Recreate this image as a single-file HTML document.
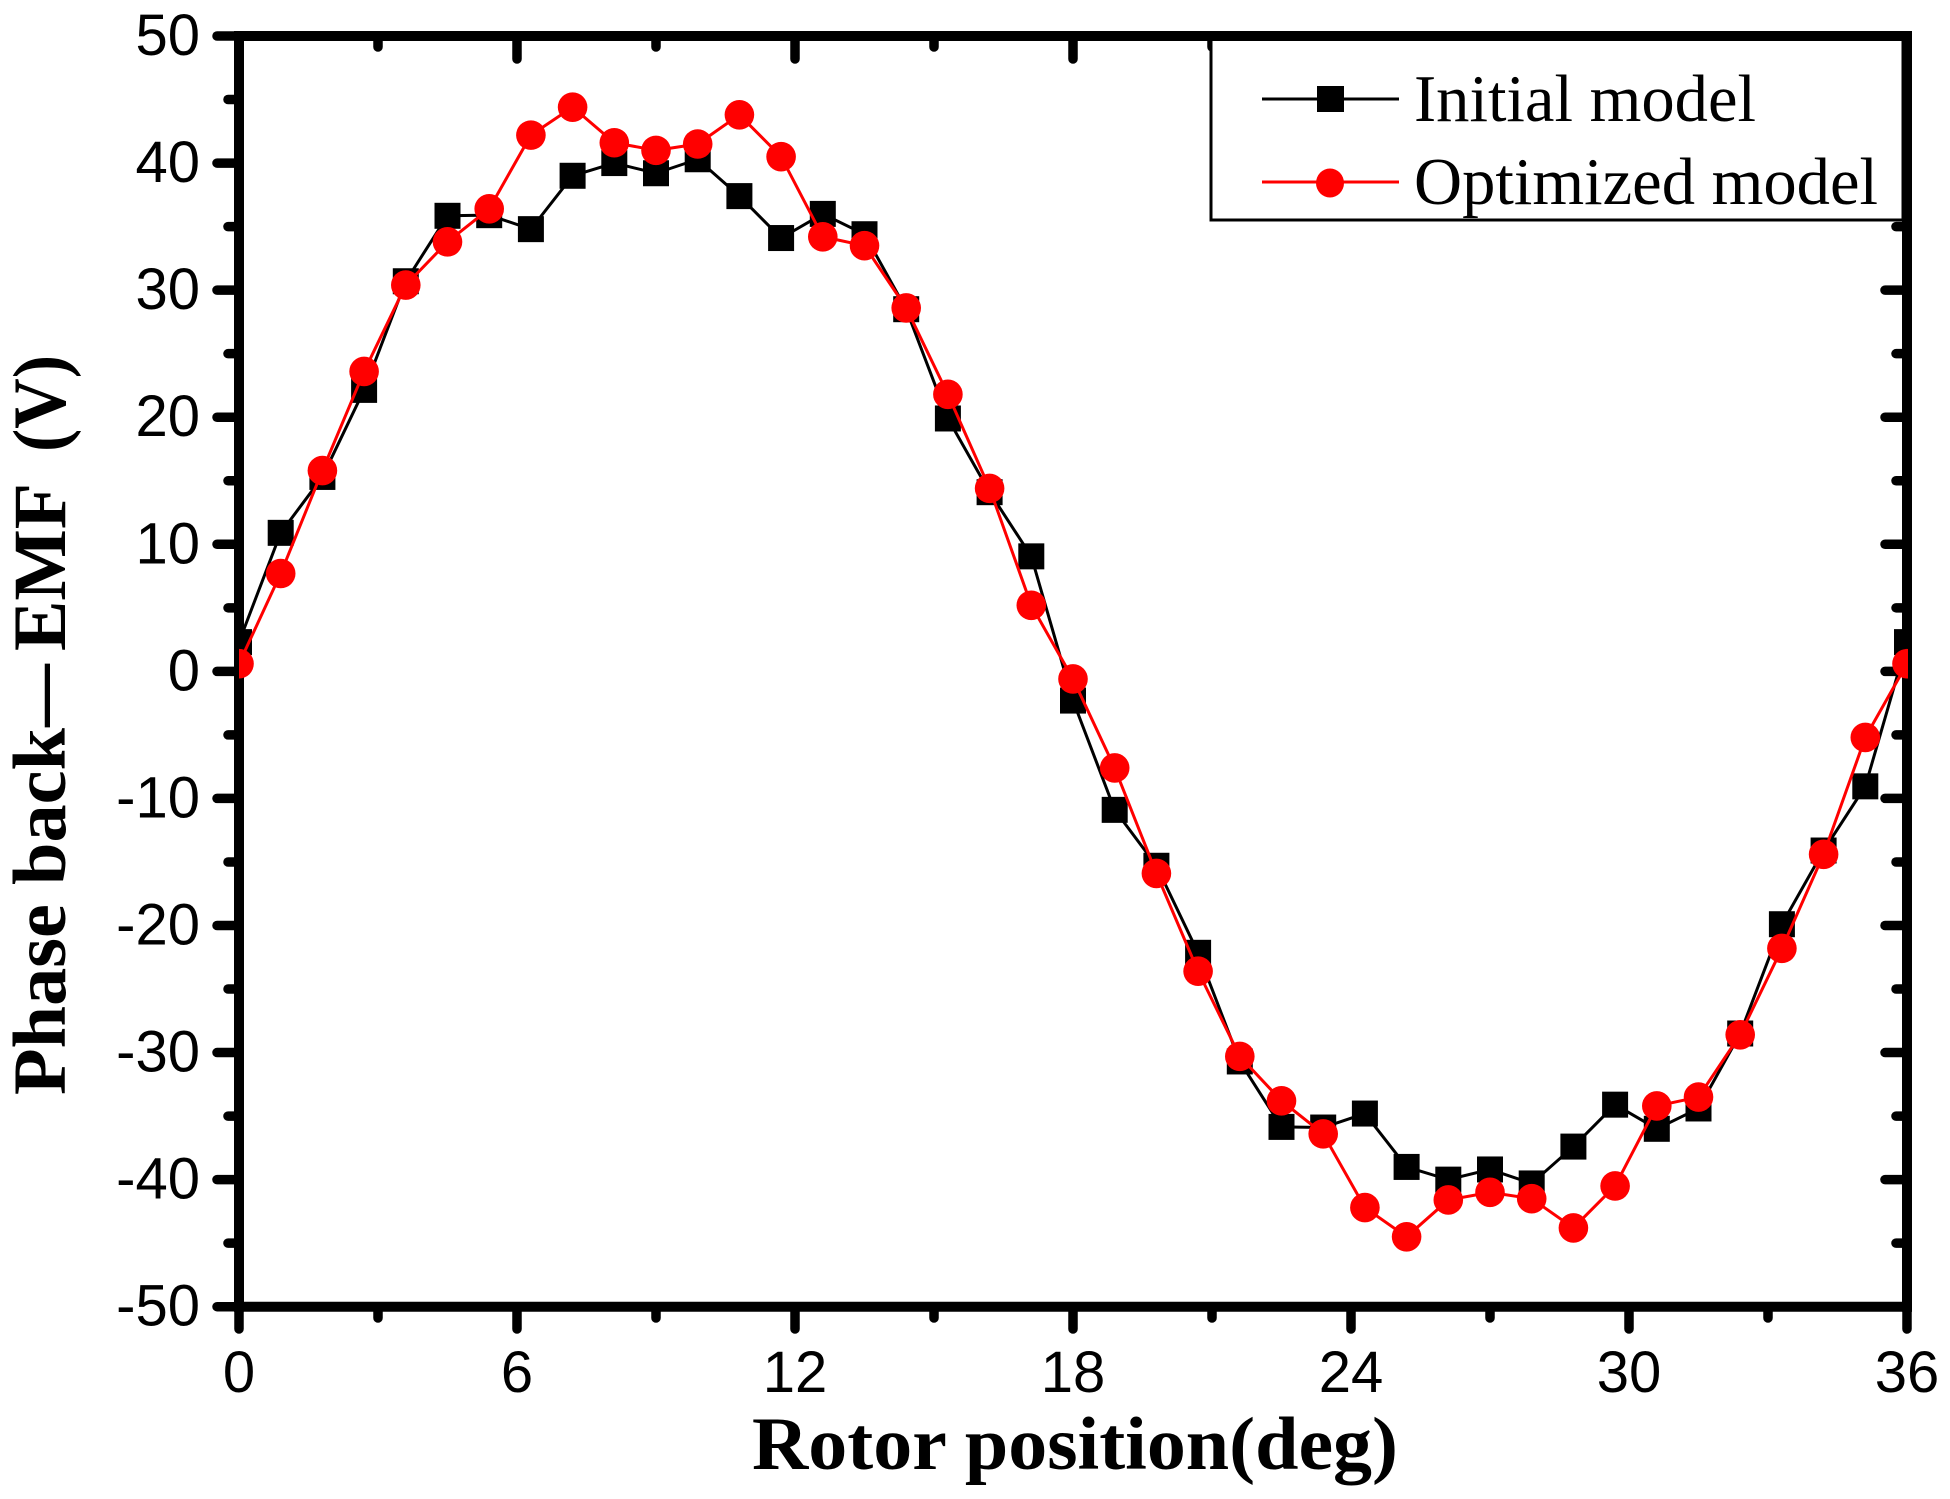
<!DOCTYPE html>
<html lang="en">
<head>
<meta charset="utf-8">
<title>Phase back-EMF chart</title>
<style>
html,body{margin:0;padding:0;background:#fff;}
svg{display:block;}
.tick-label{font-family:"Liberation Sans",Arial,sans-serif;font-size:58px;fill:#000;}
.title{font-family:"Liberation Serif","Times New Roman",serif;font-weight:bold;font-size:75px;fill:#000;}
.legend-text{font-family:"Liberation Serif","Times New Roman",serif;font-size:67px;fill:#000;}
</style>
</head>
<body>
<svg id="chart" xmlns="http://www.w3.org/2000/svg" width="1950" height="1499" viewBox="0 0 1950 1499">
  <rect x="0" y="0" width="1950" height="1499" fill="#fff"/>
  <defs>
    <clipPath id="plot-clip"><rect x="239" y="36" width="1669" height="1271"/></clipPath>
  </defs>
  <g id="ticks"></g>
  <g id="legend">
    <rect x="1211" y="36" width="692" height="184" fill="#fff" stroke="#000" stroke-width="3"/>
    <g>
      <line x1="1262" y1="99" x2="1399" y2="99" stroke="#000" stroke-width="3"/>
      <rect x="1317" y="86" width="27" height="26" fill="#000"/>
      <text class="legend-text" x="1414" y="121" textLength="342" lengthAdjust="spacingAndGlyphs">Initial model</text>
    </g>
    <g>
      <line x1="1262" y1="182" x2="1399" y2="182" stroke="#f00" stroke-width="3"/>
      <ellipse cx="1330" cy="183" rx="14" ry="14.5" fill="#f00"/>
      <text class="legend-text" x="1414" y="204" textLength="464" lengthAdjust="spacingAndGlyphs">Optimized model</text>
    </g>
  </g>
  <g id="spines"></g>
  <g id="labels"></g>
  <g id="series" clip-path="url(#plot-clip)"></g>
  <text class="title" x="752" y="1469" textLength="646" lengthAdjust="spacingAndGlyphs">Rotor position(deg)</text>
  <text class="title" transform="translate(65 1095) rotate(-90)" y="0"><tspan x="0" textLength="367" lengthAdjust="spacingAndGlyphs">Phase back</tspan><tspan x="368" textLength="63" lengthAdjust="spacingAndGlyphs">—</tspan><tspan x="444" textLength="168" lengthAdjust="spacingAndGlyphs">EMF</tspan><tspan x="643" textLength="97" lengthAdjust="spacingAndGlyphs">(V)</tspan></text>
</svg>
<script>
const positionStep = 0.9;
const initialModel = [2.3,10.9,15.3,22.15,30.7,35.85,35.9,34.8,39.0,40.0,39.2,40.3,37.4,34.1,36.0,34.4,28.5,19.9,14.1,9.05,-2.3,-10.9,-15.3,-22.15,-30.7,-35.85,-35.9,-34.8,-39.0,-40.0,-39.2,-40.3,-37.4,-34.1,-36.0,-34.4,-28.5,-19.9,-14.1,-9.05,2.3];
const optimizedModel = [0.6,7.7,15.8,23.6,30.4,33.8,36.4,42.2,44.4,41.6,41.0,41.5,43.8,40.5,34.2,33.5,28.6,21.8,14.4,5.2,-0.6,-7.6,-15.9,-23.6,-30.3,-33.8,-36.4,-42.2,-44.5,-41.6,-41.0,-41.5,-43.8,-40.5,-34.2,-33.5,-28.6,-21.8,-14.4,-5.2,0.6];
const xTickLabels = [0,6,12,18,24,30,36];
const xMinorTicks = [3,9,15,21,27,33];
const yTickLabels = [50,40,30,20,10,0,-10,-20,-30,-40,-50];
const yMinorTicks = [45,35,25,15,5,-5,-15,-25,-35,-45];

const NS = 'http://www.w3.org/2000/svg';
const PLOT = {left:239, right:1907, top:36, bottom:1306.7};
const xDomain = [0,36], yDomain = [-50,50];
function xScale(v){ return PLOT.left + (v - xDomain[0]) / (xDomain[1] - xDomain[0]) * (PLOT.right - PLOT.left); }
function yScale(v){ return PLOT.bottom - (v - yDomain[0]) / (yDomain[1] - yDomain[0]) * (PLOT.bottom - PLOT.top); }
function make(tag, attrs, parent){
  const el = document.createElementNS(NS, tag);
  for (const k in attrs) el.setAttribute(k, attrs[k]);
  parent.appendChild(el);
  return el;
}
const tickG = document.getElementById('ticks');
const spineG = document.getElementById('spines');
const labelG = document.getElementById('labels');
const seriesG = document.getElementById('series');

function tick(x1,y1,x2,y2){
  const t = make('line',{x1:x1,y1:y1,x2:x2,y2:y2,stroke:'#000','stroke-width':9.5,'stroke-linecap':'round'},tickG);
  
  
}
xTickLabels.forEach(function(v){
  const x = xScale(v);
  tick(x,PLOT.bottom,x,1329);
  tick(x,PLOT.top,x,59);
  const t = make('text',{x:x,y:1392,'text-anchor':'middle','class':'tick-label'},labelG);
  
  
  t.textContent = v;
});
xMinorTicks.forEach(function(v){
  const x = xScale(v);
  tick(x,PLOT.bottom,x,1318);
  tick(x,PLOT.top,x,47);
});
yTickLabels.forEach(function(v){
  const y = yScale(v);
  tick(PLOT.left,y,217,y);
  tick(PLOT.right,y,1885,y);
  const t = make('text',{x:200,y:y+19,'text-anchor':'end','class':'tick-label'},labelG);
  
  
  t.textContent = v;
});
yMinorTicks.forEach(function(v){
  const y = yScale(v);
  tick(PLOT.left,y,228,y);
  tick(PLOT.right,y,1896,y);
});

const spineLeft = make('line',{x1:PLOT.left,y1:PLOT.top-5,x2:PLOT.left,y2:PLOT.bottom+5,stroke:'#000','stroke-width':10},spineG);


const spineRight = make('line',{x1:PLOT.right,y1:PLOT.top-5,x2:PLOT.right,y2:PLOT.bottom+5,stroke:'#000','stroke-width':10},spineG);


const spineTop = make('line',{x1:PLOT.left-5,y1:PLOT.top,x2:PLOT.right+5,y2:PLOT.top,stroke:'#000','stroke-width':10},spineG);


const spineBottom = make('line',{x1:PLOT.left-5,y1:PLOT.bottom,x2:PLOT.right+5,y2:PLOT.bottom,stroke:'#000','stroke-width':10},spineG);



function linePoints(values){
  return values.map(function(v,i){ return xScale(i*positionStep).toFixed(2)+','+yScale(v).toFixed(2); }).join(' ');
}
const initialLine = make('polyline',{points:linePoints(initialModel),fill:'none',stroke:'#000','stroke-width':3},seriesG);


initialModel.forEach(function(v,i){
  const m = make('rect',{x:xScale(i*positionStep)-13,y:yScale(v)-13,width:26,height:26,fill:'#000'},seriesG);
  
  
});
const optimizedLine = make('polyline',{points:linePoints(optimizedModel),fill:'none',stroke:'#f00','stroke-width':3},seriesG);


optimizedModel.forEach(function(v,i){
  const m = make('circle',{cx:xScale(i*positionStep),cy:yScale(v),r:14.8,fill:'#f00'},seriesG);
  
  
});
</script>
</body>
</html>
